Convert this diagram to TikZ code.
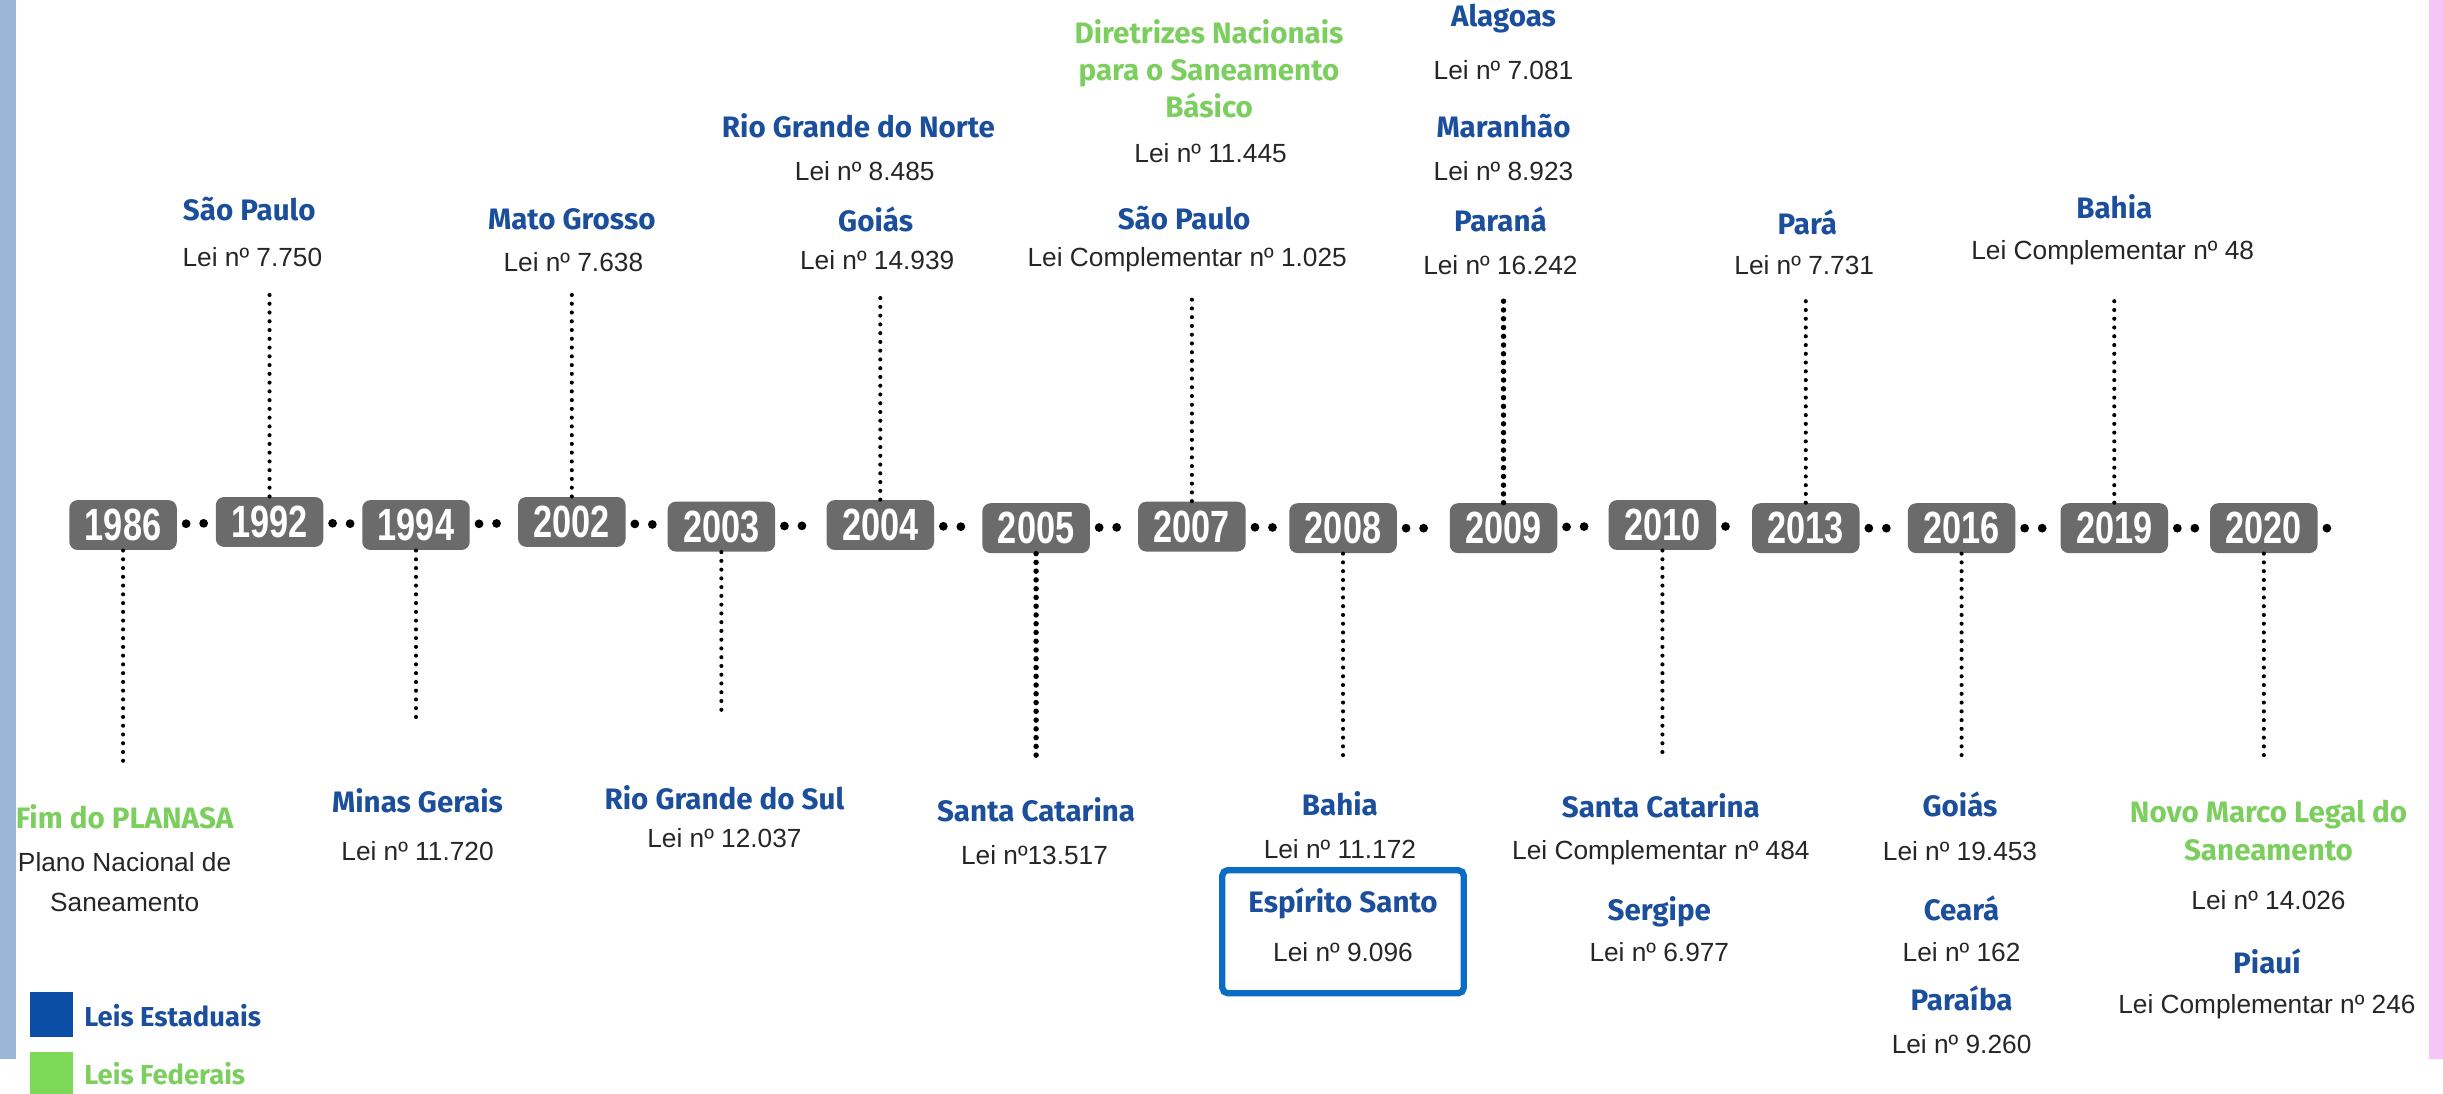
\documentclass[tikz,border=0pt]{standalone}
\usepackage{fontspec}
\setmainfont{Liberation Sans}
\newfontfamily\headfont{Fira Sans}
\newfontfamily\yearfont[FakeStretch=0.76]{Liberation Sans}

\definecolor{stateblue}{HTML}{1B4E9B}
\definecolor{fedgreen}{HTML}{7CCF5F}
\definecolor{yeargray}{HTML}{6B6B6B}
\definecolor{lawgray}{HTML}{262626}
\definecolor{markblue}{HTML}{0A6CC4}
\definecolor{legblue}{HTML}{0B4EA6}
\definecolor{leggreen}{HTML}{7DD957}
\definecolor{stripblue}{HTML}{9AB6D6}
\definecolor{strippink}{HTML}{F6C4F6}

\begin{document}
\begin{tikzpicture}[
    x=0.02cm, y=-0.02cm,
    year/.style = {
      shape=rectangle,
      rounded corners=3pt,
      fill=yeargray,
      text=white,
      font=\yearfont\bfseries\fontsize{16.5}{16.5}\selectfont,
      minimum width=1.38cm,
      minimum height=0.64cm,
      inner sep=0pt
    },
    state/.style = {
      text=stateblue,
      font=\headfont\bfseries\fontsize{10.8}{13.6}\selectfont,
      align=center,
      inner sep=1pt
    },
    federal/.style = {state, text=fedgreen},
    law/.style = {
      text=lawgray,
      font=\fontsize{9.6}{14.5}\selectfont,
      align=center,
      inner sep=1pt
    },
    hdots/.style = {
      line width=3.2pt,
      dash pattern=on 0pt off 6.4pt,
      line cap=round,
      shorten <=3.2pt,
      shorten >=3.2pt
    },
    vdots/.style = {
      line width=1.5pt,
      dash pattern=on 0pt off 3.2pt,
      line cap=round
    }
  ]
    \useasboundingbox (0,0) rectangle (1568,702);

    % Year boxes
    \node[year] (y1986) at (79,337) {1986};
    \node[year] (y1992) at (173,335) {1992};
    \node[year] (y1994) at (267,337) {1994};
    \node[year] (y2002) at (367,335) {2002};
    \node[year] (y2003) at (463,338) {2003};
    \node[year] (y2004) at (565,337) {2004};
    \node[year] (y2005) at (665,339) {2005};
    \node[year] (y2007) at (765,338) {2007};
    \node[year] (y2008) at (862,339) {2008};
    \node[year] (y2009) at (965,339) {2009};
    \node[year] (y2010) at (1067,337) {2010};
    \node[year] (y2013) at (1159,339) {2013};
    \node[year] (y2016) at (1259,339) {2016};
    \node[year] (y2019) at (1357,339) {2019};
    \node[year] (y2020) at (1453,339) {2020};
    \coordinate (tend) at (1496,339);

    % Dots between the years
    \draw[hdots] (y1986) -- (y1992);
    \draw[hdots] (y1992) -- (y1994);
    \draw[hdots] (y1994) -- (y2002);
    \draw[hdots] (y2002) -- (y2003);
    \draw[hdots] (y2003) -- (y2004);
    \draw[hdots] (y2004) -- (y2005);
    \draw[hdots] (y2005) -- (y2007);
    \draw[hdots] (y2007) -- (y2008);
    \draw[hdots] (y2008) -- (y2009);
    \draw[hdots] (y2009) -- (y2010);
    \draw[hdots] (y2010) -- (y2013);
    \draw[hdots] (y2013) -- (y2016);
    \draw[hdots] (y2016) -- (y2019);
    \draw[hdots] (y2019) -- (y2020);
    \draw[hdots] (y2020) -- (tend);

    % Laws above the line
    \node[state] (sp92) at (160,134) {São Paulo};
    \node[law] (l7750) at (162,165) {Lei nº 7.750};
    \node[state] (mt02) at (367,141) {Mato Grosso};
    \node[law] (l7638) at (368,168) {Lei nº 7.638};
    \node[state] (rn04) at (551,81) {Rio Grande do Norte};
    \node[law] (l8485) at (555,110) {Lei nº 8.485};
    \node[state] (go04) at (562,141) {Goiás};
    \node[law] (l14939) at (563,167) {Lei nº 14.939};
    \node[federal] (dn07) at (776,44) {Diretrizes Nacionais\\para o Saneamento\\Básico};
    \node[law] (l11445) at (777,98) {Lei nº 11.445};
    \node[state] (sp07) at (760,140) {São Paulo};
    \node[law] (lc1025) at (762,167) {Lei Complementar nº 1.025};
    \node[state] (al09) at (965,12) {Alagoas};
    \node[law] (l7081) at (965,45) {Lei nº 7.081};
    \node[state] (ma09) at (965,81) {Maranhão};
    \node[law] (l8923) at (965,110) {Lei nº 8.923};
    \node[state] (pr09) at (963,141) {Paraná};
    \node[law] (l16242) at (963,170) {Lei nº 16.242};
    \node[state] (pa13) at (1160,143) {Pará};
    \node[law] (l7731) at (1158,170) {Lei nº 7.731};
    \node[state] (ba19) at (1357,133) {Bahia};
    \node[law] (lc48) at (1356,162) {Lei Complementar nº 48};

    % Laws below the line
    \node[federal] (fim86) at (80,524) {Fim do PLANASA};
    \node[law] (pns86) at (80,566) {Plano Nacional de\\Saneamento};
    \node[state] (mg94) at (268,514) {Minas Gerais};
    \node[law] (l11720) at (268,546) {Lei nº 11.720};
    \node[state] (rs03) at (465,512) {Rio Grande do Sul};
    \node[law] (l12037) at (465,538) {Lei nº 12.037};
    \node[state] (sc05) at (665,520) {Santa Catarina};
    \node[law] (l13517) at (664,549) {Lei nº13.517};
    \node[state] (ba08) at (860,516) {Bahia};
    \node[law] (l11172) at (860,545) {Lei nº 11.172};
    \node[draw=markblue, line width=2.3pt, rounded corners=2pt,
          minimum width=3.1cm, minimum height=1.58cm] (mark) at (862,598) {};
    \node[state] (es08) at (862,580) {Espírito Santo};
    \node[law] (l9096) at (862,611) {Lei nº 9.096};
    \node[state] (sc10) at (1066,517) {Santa Catarina};
    \node[law] (lc484) at (1066,547) {Lei Complementar nº 484};
    \node[state] (se10) at (1065,585) {Sergipe};
    \node[law] (l6977) at (1065,611) {Lei nº 6.977};
    \node[state] (go16) at (1258,516) {Goiás};
    \node[law] (l19453) at (1258,546) {Lei nº 19.453};
    \node[state] (ce16) at (1259,583) {Ceará};
    \node[law] (l162) at (1259,611) {Lei nº 162};
    \node[state] (pb16) at (1259,641) {Paraíba};
    \node[law] (l9260) at (1259,670) {Lei nº 9.260};
    \node[federal] (nm20) at (1456,533) {Novo Marco Legal do\\Saneamento};
    \node[law] (l14026) at (1456,578) {Lei nº 14.026};
    \node[state] (pi20) at (1455,617) {Piauí};
    \node[law] (lc246) at (1455,646) {Lei Complementar nº 246};

    % Dotted stems
    \coordinate (t1992) at (173,189);
    \coordinate (t2002) at (367,189);
    \coordinate (t2004) at (565,190);
    \coordinate (t2007) at (765,189);
    \coordinate (t2009) at (965,192);
    \coordinate (t2013) at (1159,192);
    \coordinate (t2019) at (1357,189);
    \coordinate (b1986) at (79,490);
    \coordinate (b1994) at (267,461);
    \coordinate (b2003) at (463,458);
    \coordinate (b2005) at (665,490);
    \coordinate (b2008) at (862,488);
    \coordinate (b2010) at (1067,488);
    \coordinate (b2016) at (1259,488);
    \coordinate (b2020) at (1453,490);
    \draw[vdots] (y1992.north) -- (t1992);
    \draw[vdots] (y2002.north) -- (t2002);
    \draw[vdots] (y2004.north) -- (t2004);
    \draw[vdots] (y2007.north) -- (t2007);
    \draw[vdots, line width=2pt] (y2009.north) -- (t2009);
    \draw[vdots] (y2013.north) -- (t2013);
    \draw[vdots] (y2019.north) -- (t2019);
    \draw[vdots] (y1986.south) -- (b1986);
    \draw[vdots] (y1994.south) -- (b1994);
    \draw[vdots] (y2003.south) -- (b2003);
    \draw[vdots, line width=2pt] (y2005.south) -- (b2005);
    \draw[vdots] (y2008.south) -- (b2008);
    \draw[vdots] (y2010.south) -- (b2010);
    \draw[vdots] (y2016.south) -- (b2016);
    \draw[vdots] (y2020.south) -- (b2020);

    % Legend
    \node[fill=legblue, minimum width=0.56cm, minimum height=0.58cm, inner sep=0pt] (kst) at (33,651) {};
    \node[state, anchor=west, font=\headfont\bfseries\fontsize{10}{12}\selectfont] (lst) at (52,652) {Leis Estaduais};
    \node[fill=leggreen, minimum width=0.56cm, minimum height=0.58cm, inner sep=0pt] (kfe) at (33,690) {};
    \node[federal, anchor=west, font=\headfont\bfseries\fontsize{10}{12}\selectfont] (lfe) at (52,689) {Leis Federais};

    % Side strips
    \fill[stripblue] (0,0) rectangle (10,680);
    \fill[strippink] (1559,0) rectangle (1568,680);
  \end{tikzpicture}
\end{document}
